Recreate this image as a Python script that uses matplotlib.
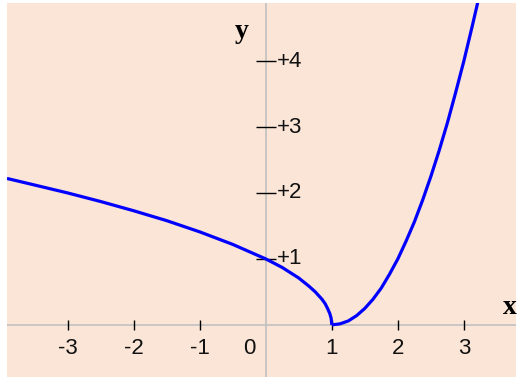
import matplotlib
matplotlib.use("Agg")
import matplotlib.pyplot as plt

# Curve values
x_left = [-3.92, -3.5, -3.0, -2.5, -2.0, -1.5, -1.0, -0.5, 0.0, 0.25, 0.5,
          0.65, 0.75, 0.85, 0.9, 0.94, 0.97, 0.99, 1.0]
y_left = [2.22, 2.12, 2.0, 1.87, 1.73, 1.58, 1.41, 1.22, 1.0, 0.87, 0.71,
          0.59, 0.5, 0.39, 0.32, 0.24, 0.17, 0.1, 0.0]
x_right = [1.0, 1.125, 1.25, 1.375, 1.5, 1.625, 1.75, 1.875, 2.0, 2.125, 2.25,
           2.375, 2.5, 2.625, 2.75, 2.875, 3.0, 3.125, 3.25]
y_right = [0.0, 0.016, 0.06, 0.14, 0.25, 0.39, 0.56, 0.77, 1.0, 1.27, 1.56,
           1.89, 2.25, 2.64, 3.06, 3.52, 4.0, 4.52, 5.06]

x_ticks = [-3, -2, -1, 1, 2, 3]
x_tick_labels = ["-3", "-2", "-1", "1", "2", "3"]
y_ticks = [1, 2, 3, 4]
y_tick_labels = ["+1", "+2", "+3", "+4"]

W, H = 518, 379
fig = plt.figure(figsize=(W / 100, H / 100), dpi=100)
fig.patch.set_facecolor("white")
ax = fig.add_axes([7 / W, 1 - 377 / H, 509 / W, 374 / H])
ax.set_facecolor("#FAE5D7")
ax.set_xlim(-3.92, 3.79)
ax.set_ylim(-0.79, 4.88)
for s in ax.spines.values():
    s.set_visible(False)
ax.set_xticks([])
ax.set_yticks([])

axis_col = "#C0C0C0"
ax.axhline(0, color=axis_col, lw=1.2, zorder=1)
ax.axvline(0, color=axis_col, lw=1.2, zorder=1)

# tick marks
ax.plot(x_ticks, [0] * len(x_ticks), ls="none", marker="|", color="black",
        markersize=6.5, markeredgewidth=1.0, zorder=2)
ax.plot([0] * len(y_ticks), y_ticks, ls="none", marker="_", color="black",
        markersize=15, markeredgewidth=1.0, zorder=2)

font = ["Liberation Sans Narrow", "Liberation Sans", "DejaVu Sans"]
fs = 16
for xv, lab in zip(x_ticks, x_tick_labels):
    ax.annotate(lab, (xv, 0), xytext=(0, -17), textcoords="offset points",
                ha="center", va="center", fontsize=fs, family=font, color="#111111")
ax.annotate("0", (0, 0), xytext=(-12, -17), textcoords="offset points",
            ha="center", va="center", fontsize=fs, family=font, color="#111111")
for yv, lab in zip(y_ticks, y_tick_labels):
    ax.annotate(lab, (0, yv), xytext=(8, 0), textcoords="offset points",
                ha="left", va="center", fontsize=fs, family=font, color="#111111")

ax.text(-0.36, 4.45, "y", fontsize=20, fontweight="bold",
        family=["Liberation Serif", "DejaVu Serif"], ha="center", va="center")
ax.text(3.70, 0.27, "x", fontsize=20, fontweight="bold",
        family=["Liberation Serif", "DejaVu Serif"], ha="center", va="center")

ax.plot(x_left, y_left, color="#0000FF", lw=2.3, zorder=3, solid_capstyle="butt")
ax.plot(x_right, y_right, color="#0000FF", lw=2.3, zorder=3, solid_capstyle="butt")

fig.savefig("out.png", dpi=100, facecolor=fig.get_facecolor())
